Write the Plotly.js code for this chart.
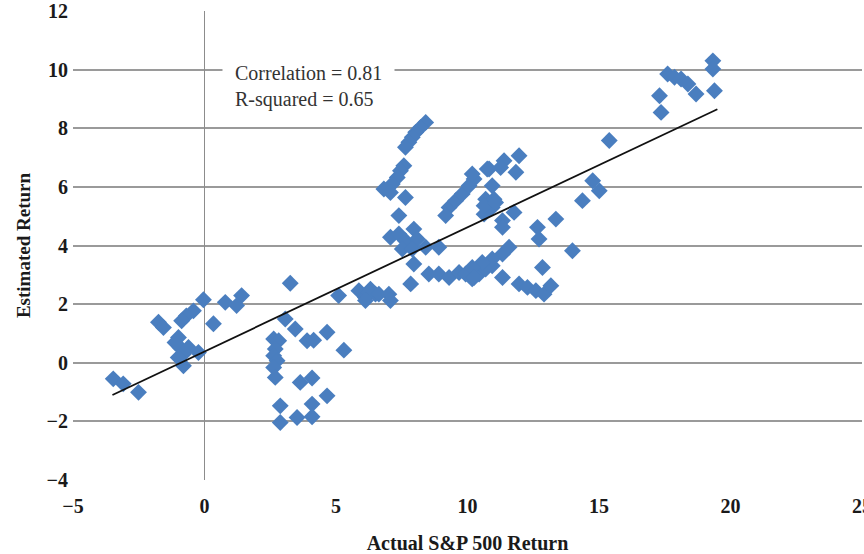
<!DOCTYPE html>
<html>
<head>
<meta charset="utf-8">
<script src="https://cdn.plot.ly/plotly-3.0.1.min.js"></script>
<style>html,body{margin:0;padding:0;background:#fff;}#chart{width:864px;height:554px;}</style>
</head>
<body>
<div id="chart"></div>
<script>
// Actual S&P 500 return (x) vs estimated return (y)
var actualReturn = [
  -3.47,-3.09,-2.51,-1.75,-1.56,-0.42,-0.69,-0.87,-0.99,-0.93,-0.80,-0.80,-0.23,-1.00,-1.12,-0.61,-0.04,0.34,0.79,1.41,1.22,
  3.26,3.07,3.45,3.90,4.15,4.66,5.30,2.63,2.82,2.69,2.63,2.76,2.63,2.69,3.64,4.09,4.66,2.88,4.09,2.88,3.52,4.09,
  5.10,5.87,6.12,6.31,6.50,6.25,6.63,7.01,7.07,6.12,
  8.41,8.22,8.03,7.90,7.77,7.64,7.58,7.45,7.33,7.14,6.82,7.07,7.64,7.39,
  7.07,7.39,7.64,7.96,8.09,7.52,7.90,8.41,8.91,7.96,7.84,
  8.53,8.91,9.30,9.68,9.93,10.18,10.44,10.69,10.94,
  9.30,9.17,9.55,9.80,10.06,10.25,10.75,10.69,10.63,10.94,
  11.96,11.39,11.26,10.82,11.84,10.18,10.94,11.01,10.63,11.07,11.77,11.33,11.33,
  13.36,12.66,12.72,13.99,
  11.58,11.33,10.94,10.56,10.18,10.25,12.85,11.33,11.96,12.28,12.60,12.91,13.17,
  14.76,15.01,14.37,15.39,
  19.33,19.33,19.39,18.69,17.61,17.87,18.12,18.38,17.30,17.36
];
var estimatedReturn = [
  -0.55,-0.72,-1.01,1.38,1.20,1.77,1.60,1.43,0.86,0.52,0.30,-0.10,0.35,0.18,0.69,0.52,2.15,1.33,2.06,2.29,1.95,
  2.71,1.49,1.15,0.75,0.77,1.04,0.43,0.81,0.75,0.47,0.24,0.07,-0.16,-0.50,-0.67,-0.52,-1.13,-1.47,-1.41,-2.04,-1.87,-1.84,
  2.29,2.46,2.23,2.51,2.34,2.40,2.34,2.34,2.12,2.12,
  8.20,8.03,7.86,7.69,7.52,7.35,6.72,6.55,6.32,6.10,5.93,5.81,5.64,5.02,
  4.28,4.39,4.16,4.56,4.22,3.88,3.88,3.94,3.94,3.37,2.69,
  3.03,3.03,2.91,3.08,3.03,2.86,3.03,3.20,3.31,
  5.30,5.02,5.53,5.76,6.04,6.27,6.61,5.58,5.07,5.30,
  7.06,6.89,6.66,6.61,6.50,6.44,6.04,5.58,5.36,5.47,5.13,4.85,4.62,
  4.90,4.62,4.22,3.82,
  3.94,3.71,3.54,3.42,3.25,2.91,3.25,2.91,2.69,2.57,2.46,2.34,2.63,
  6.21,5.87,5.53,7.58,
  10.30,10.02,9.28,9.17,9.85,9.74,9.68,9.51,9.11,8.54
];
// Regression line end points
var trendX = [-3.5, 19.5];
var trendY = [-1.1, 8.65];
var statsText = ["Correlation = 0.81", "R-squared = 0.65"];
var xTickVals = [-5, 0, 5, 10, 15, 20, 25];
var yTickVals = [-4, -2, 0, 2, 4, 6, 8, 10, 12];

var serif = "Liberation Serif, Times New Roman, serif";
var data = [
  {x: actualReturn, y: estimatedReturn, type: "scatter", mode: "markers",
   marker: {symbol: "diamond", size: 13, color: "#4a7ebf"}, hoverinfo: "x+y", showlegend: false},
  {x: trendX, y: trendY, type: "scatter", mode: "lines",
   line: {color: "#111111", width: 1.8}, showlegend: false}
];
var layout = {
  width: 864, height: 554,
  margin: {l: 73, r: 2, t: 11, b: 74},
  paper_bgcolor: "#ffffff", plot_bgcolor: "#ffffff",
  showlegend: false,
  xaxis: {
    range: [-5, 25], tickvals: xTickVals, showgrid: false,
    zeroline: true, zerolinecolor: "#8c8c8c", zerolinewidth: 1.8,
    showline: false, ticks: "", ticklabeloverflow: "allow", ticklabelstandoff: 12,
    tickfont: {family: serif, size: 20, weight: "bold", color: "#1a1a1a"},
    title: {text: "Actual S&P 500 Return", font: {family: serif, size: 20, weight: "bold", color: "#1a1a1a"}, standoff: 21}
  },
  yaxis: {
    range: [-4, 12], tickvals: yTickVals, showgrid: true,
    gridcolor: "#9a9a9a", gridwidth: 2,
    zeroline: false, showline: false, ticks: "", ticklabelstandoff: 4,
    tickfont: {family: serif, size: 20, weight: "bold", color: "#1a1a1a"},
    title: {text: "Estimated Return", font: {family: serif, size: 19, weight: "bold", color: "#1a1a1a"}, standoff: 10}
  },
  annotations: [{
    xref: "x", yref: "y", x: 0.68, y: 10.72, xanchor: "left", yanchor: "top",
    text: statsText.join("<br>"), align: "left", showarrow: false,
    bgcolor: "#ffffff", borderpad: 12,
    font: {family: serif, size: 20, color: "#333"}
  }]
};
Plotly.newPlot("chart", data, layout, {displayModeBar: false, staticPlot: true});
</script>
</body>
</html>
